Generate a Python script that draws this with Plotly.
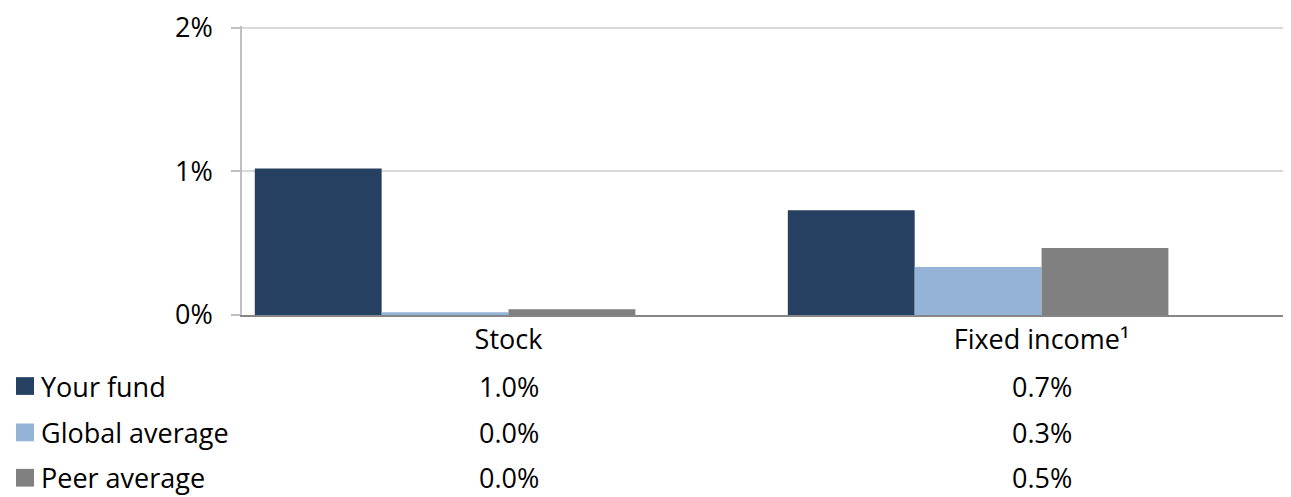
import plotly.graph_objects as go

# data
categories = ["Stock", "Fixed income¹"]
series_names = ["Your fund", "Global average", "Peer average"]
your_fund = [1.02, 0.73]
global_avg = [0.02, 0.335]
peer_avg = [0.04, 0.467]
colors = ["#264061", "#95B3D7", "#808080"]
y_ticks = [0, 1, 2]
y_tick_labels = ["0%", "1%", "2%"]

series_values = [your_fund, global_avg, peer_avg]

FONT = "Open Sans"
FSIZE = 27

# page geometry (px); the page body adds an 8px margin
OFF = 8
W, H = 1291 - OFF, 497 - OFF
L, R, T, B = 242 - OFF, 0, 14, 182
plot_h = H - T - B
plot_w = W - L - R
# 0% sits at window row 315, 2% at row 24; leave the top a touch above 2%
y_top = 2 * (315 - (T + OFF)) / (315 - 24)


def py(y_px):
    # pixel row in window -> paper y
    return (H - B - (y_px - OFF)) / plot_h


def px(x_px):
    # pixel column in window -> paper x
    return (x_px - OFF - L) / plot_w


fig = go.Figure()

bar_w = 0.238
for i, (name, vals, col) in enumerate(zip(series_names, series_values, colors)):
    fig.add_trace(go.Bar(
        x=categories, y=vals, name=name,
        marker=dict(color=col, line=dict(width=0)),
        width=bar_w, offset=-2 * bar_w + i * bar_w,
        showlegend=False,
    ))

# data table below the chart
row_y = [387, 434, 480]
for name, vals, col, ry in zip(series_names, series_values, colors, row_y):
    fig.add_shape(type="rect", xref="paper", yref="paper",
                  x0=px(16), x1=px(34), y0=py(ry - 9), y1=py(ry + 9),
                  fillcolor=col, line=dict(width=0))
    fig.add_annotation(x=px(39), y=py(ry), xref="paper", yref="paper",
                       text=name, showarrow=False, xanchor="left", yanchor="middle",
                       font=dict(family=FONT, size=FSIZE, color="#000000"))
    for cat, v in zip(categories, vals):
        fig.add_annotation(x=cat, y=py(ry), xref="x", yref="paper",
                           text=f"{v:.1f}%", showarrow=False,
                           xanchor="center", yanchor="middle",
                           font=dict(family=FONT, size=FSIZE, color="#000000"))

fig.update_layout(
    width=W, height=H,
    margin=dict(l=L, r=R, t=T, b=B, pad=0),
    paper_bgcolor="white", plot_bgcolor="white",
    barmode="group",
    font=dict(family=FONT, size=FSIZE, color="#000000"),
)

fig.update_xaxes(
    range=[-0.5, 1.468],
    showgrid=False,
    showline=True, linecolor="#868686", linewidth=2,
    ticks="", tickfont=dict(family=FONT, size=FSIZE, color="#000000"),
    zeroline=False,
)
fig.update_yaxes(
    range=[0, y_top],
    tickvals=y_ticks, ticktext=y_tick_labels,
    showgrid=True, gridcolor="#d9d9d9", gridwidth=1.5,
    showline=True, linecolor="#bfbfbf", linewidth=1.5,
    ticks="outside", ticklen=9, tickcolor="#bfbfbf", tickwidth=1.5,
    ticklabelstandoff=13, ticklabeloverflow="allow",
    zeroline=False,
    tickfont=dict(family=FONT, size=FSIZE, color="#000000"),
)

fig.write_html("out.html")
